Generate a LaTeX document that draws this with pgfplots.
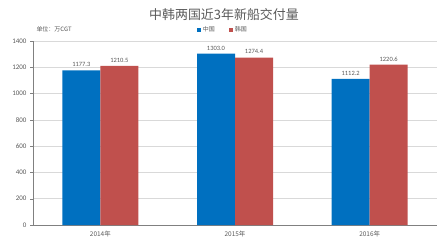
\documentclass[border=0pt]{standalone}
\usepackage{pgfplots}
\pgfplotsset{compat=1.18}
\usepackage{fontspec}
\setmainfont{Carlito}
\newfontfamily\cjk{Noto Sans CJK SC}
\definecolor{cnblue}{RGB}{0,112,192}
\definecolor{krred}{RGB}{192,80,77}
\definecolor{txtgray}{RGB}{89,89,89}
\definecolor{gridgray}{RGB}{217,217,217}
\begin{document}
\begin{tikzpicture}[x=1bp,y=1bp]
\useasboundingbox (0,0) rectangle (448,248);
\node[font=\cjk\fontsize{13}{15}\selectfont, text=txtgray] at (224,233) {中韩两国近3年新船交付量};
\node[font=\cjk\fontsize{6}{7}\selectfont, text=txtgray, anchor=west] at (33,219) {单位：万CGT};
\begin{axis}[
  at={(33bp,23bp)}, anchor=south west,
  scale only axis, width=404bp, height=184bp,
  ybar=0pt, bar width=38bp,
  xmin=-0.5, xmax=2.5, ymin=0, ymax=1400,
  xtick={0,1,2}, xticklabels={2014年,2015年,2016年},
  xticklabel style={font=\cjk\fontsize{6.5}{7}\selectfont, text=txtgray},
  extra x ticks={0.5,1.5}, extra x tick labels={},
  extra x tick style={major tick length=3bp, tick style={draw=gray}, grid=none},
  ytick={0,200,...,1400},
  yticklabel style={font=\fontsize{7}{8}\selectfont, text=txtgray},
  /pgf/number format/assume math mode=true,
  /pgf/number format/set thousands separator={},
  ymajorgrids, grid style={gridgray, line width=0.6pt},
  axis x line*=bottom, axis y line*=left,
  axis line style={draw=gray, line width=0.6pt},
  x axis line style={-},
  y axis line style={-},
  major x tick style={draw=none},
  ytick style={draw=gray},
  tick align=outside, major tick length=3bp,
  nodes near coords,
  nodes near coords style={font=\fontsize{6.5}{7}\selectfont, text=txtgray, /pgf/number format/.cd, fixed, fixed zerofill, precision=1, assume math mode=true, set thousands separator={}},
  legend style={at={(0.47,1.06)}, anchor=center, draw=none, fill=none,
    legend columns=2, font=\cjk\fontsize{6}{7}\selectfont, text=txtgray,
    /tikz/every even column/.append style={column sep=12bp}},
  legend image code/.code={\fill[#1] (0bp,-2bp) rectangle (4bp,2bp);},
  clip=false,
]
\addplot[fill=cnblue, draw=none] coordinates {(0,1177.3) (1,1303.0) (2,1112.2)};
\addplot[fill=krred, draw=none] coordinates {(0,1210.5) (1,1274.4) (2,1220.6)};
\legend{中国,韩国}
\end{axis}
\end{tikzpicture}
\end{document}
